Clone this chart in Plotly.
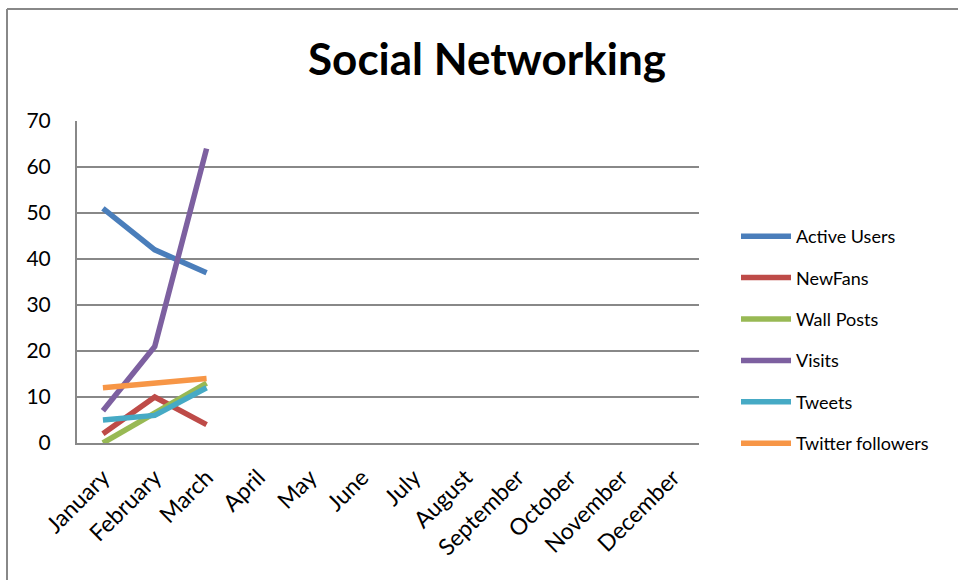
import plotly.graph_objects as go

months = ["January", "February", "March", "April", "May", "June", "July",
          "August", "September", "October", "November", "December"]
active_users = [51, 42, 37]
new_fans = [2, 10, 4]
wall_posts = [0, 6.5, 13]
visits = [7, 21, 64]
tweets = [5, 6, 12]
twitter_followers = [12, 13, 14]

series = [
    ("Active Users", active_users, "#4A7EBB"),
    ("NewFans", new_fans, "#BE4B48"),
    ("Wall Posts", wall_posts, "#98B954"),
    ("Visits", visits, "#7D60A0"),
    ("Tweets", tweets, "#46AAC5"),
    ("Twitter followers", twitter_followers, "#F79646"),
]

FONT = "Lato"
fig = go.Figure()
for i, (name, vals, color) in enumerate(series):
    fig.add_trace(go.Scatter(
        x=months[:len(vals)], y=vals, name=name, mode="lines",
        line=dict(color=color, width=5.5), legendgroup=f"g{i}",
    ))

W, H = 958, 580
L, R, T, B = 77, 259, 121, 137
pw, ph = W - L - R, H - T - B

fig.update_layout(
    width=W, height=H,
    margin=dict(l=L, r=R, t=T, b=B),
    paper_bgcolor="white", plot_bgcolor="white",
    font=dict(family=FONT, color="black"),
    title=dict(text="<b>Social Networking</b>", x=487 / W, xanchor="center",
               y=1 - 60 / H, yanchor="middle", font=dict(size=44, family=FONT)),
    showlegend=True,
    legend=dict(x=(736 - L) / pw, xanchor="left", y=1 - (218 - T) / ph, yanchor="top",
                font=dict(size=18, family=FONT), tracegroupgap=15, itemwidth=50,
                bgcolor="rgba(0,0,0,0)"),
    xaxis=dict(categoryorder="array", categoryarray=months, range=[-0.5, 11.5],
               tickvals=months, ticktext=months, automargin=False,
               tickangle=-45, tickfont=dict(size=23, family=FONT),
               showgrid=False, showline=True, linecolor="#888888", linewidth=2,
               ticks="", ticklabelstandoff=10, fixedrange=True),
    yaxis=dict(range=[0, 70], dtick=10, tickfont=dict(size=21, family=FONT),
               automargin=False,
               showgrid=True, gridcolor="#888888", gridwidth=1.5,
               showline=True, linecolor="#888888", linewidth=2,
               zeroline=False, ticks="", ticklabelstandoff=20, fixedrange=True),
)

# outer chart border (left and top visible)
x_left = (7 - L) / pw
y_top = 1 + (T - 9) / ph
fig.add_shape(type="line", xref="paper", yref="paper", x0=x_left, x1=x_left,
              y0=-B / ph - 0.1, y1=y_top, line=dict(color="#888888", width=2))
fig.add_shape(type="line", xref="paper", yref="paper", x0=x_left, x1=1 + R / pw + 0.1,
              y0=y_top, y1=y_top, line=dict(color="#888888", width=2))

fig.write_html("out.html", config={"displayModeBar": False},
               post_script="document.body.style.margin='0';")
